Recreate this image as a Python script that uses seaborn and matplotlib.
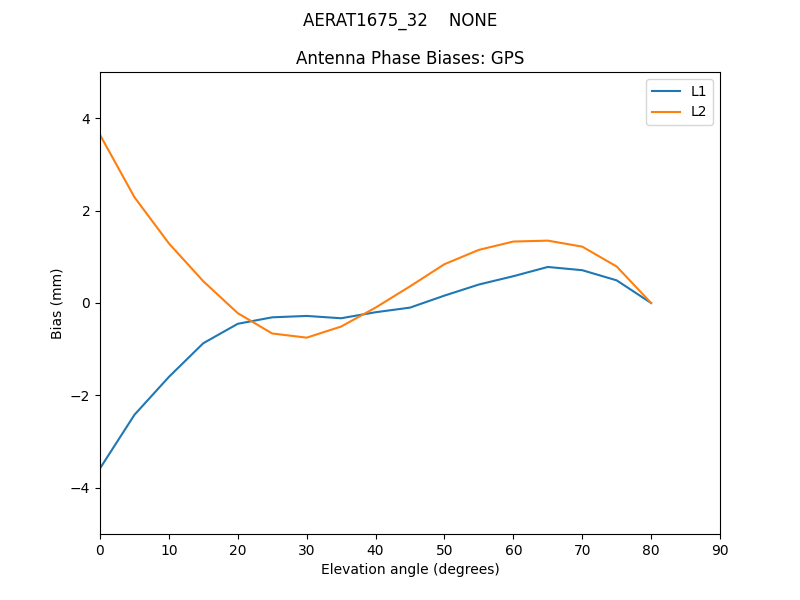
import matplotlib
matplotlib.use("Agg")
from matplotlib import pyplot as plt
import pandas as pd
import seaborn as sns

# elevation angles and phase biases per frequency
elevation = [0, 5, 10, 15, 20, 25, 30, 35, 40, 45, 50, 55, 60, 65, 70, 75, 80]
bias_l1 = [-3.58, -2.42, -1.60, -0.87, -0.45, -0.31, -0.28, -0.33, -0.20, -0.10,
           0.16, 0.40, 0.58, 0.78, 0.71, 0.49, 0.0]
bias_l2 = [3.64, 2.29, 1.29, 0.47, -0.22, -0.66, -0.75, -0.51, -0.10, 0.36,
           0.84, 1.15, 1.33, 1.35, 1.22, 0.79, 0.0]

df = pd.DataFrame({
    "elev": elevation * 2,
    "bias": bias_l1 + bias_l2,
    "freq": ["L1"] * len(elevation) + ["L2"] * len(elevation),
})

fig, ax = plt.subplots(figsize=(8, 6), dpi=100)
sns.lineplot(data=df, x="elev", y="bias", hue="freq", ax=ax,
             palette=["#1f77b4", "#ff7f0e"])

ax.set_xlim(0, 90)
ax.set_ylim(-5, 5)
ax.set_xticks(range(0, 91, 10))
ax.set_xlabel("Elevation angle (degrees)")
ax.set_ylabel("Bias (mm)")
ax.set_title("Antenna Phase Biases: GPS")
ax.legend(loc="upper right")
fig.suptitle("AERAT1675_32    NONE")

fig.savefig("out.png")
